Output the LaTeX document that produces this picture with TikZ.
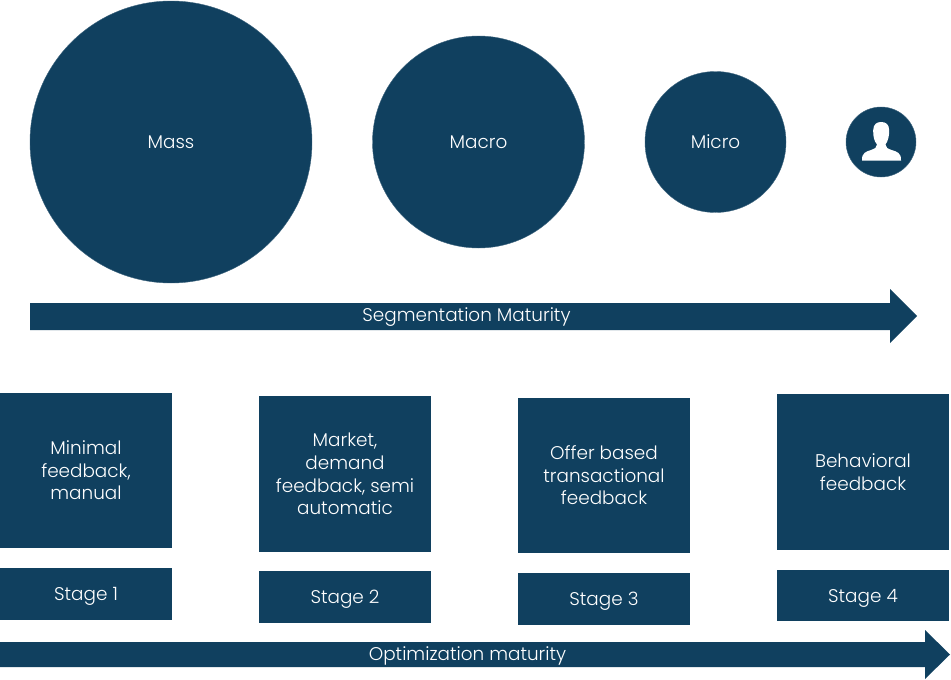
\documentclass[tikz,border=0pt]{standalone}
\usepackage{fontspec}
\setmainfont{Poppins Light}
\definecolor{navy}{HTML}{10405F}
\tikzset{
  bubble/.style={circle, fill=navy, draw=navy!80, text=white, inner sep=0pt, font=\fontsize{18.4}{22}\selectfont},
  stagebox/.style={rectangle, fill=navy, text=white, inner sep=0pt, minimum width=172pt, align=center, font=\fontsize{18.4}{22.6}\selectfont},
  stagelabel/.style={stagebox, text height=13pt, text depth=0pt},
  bartext/.style={text=white, inner sep=0pt, font=\fontsize{18.4}{22}\selectfont},
}
\begin{document}
\begin{tikzpicture}[x=1pt,y=-1pt]
        \useasboundingbox (0,0) rectangle (951,680);
        % bubbles
        \node[bubble, minimum size=282pt] (mass) at (171,142) {Mass};
        \node[bubble, minimum size=212pt] (macro) at (478.5,142) {Macro};
        \node[bubble, minimum size=141pt] (micro) at (715.5,142) {Micro};
        \node[bubble, minimum size=70pt] (user) at (881,142) {};
        \fill[white] (862,160.7) .. controls (861.5,153) and (866,151.5) .. (871,150)
          .. controls (875,148.5) and (877,147.5) .. (877,144.5)
          .. controls (874,141) and (873,136) .. (873.2,130)
          .. controls (873.5,124) and (877,122) .. (881,122)
          .. controls (885.5,122) and (889,124) .. (889.2,130)
          .. controls (889.3,136) and (888,141) .. (885.5,144.5)
          .. controls (885.5,147.5) and (887.5,148.5) .. (891.5,150)
          .. controls (897,151.5) and (901.5,153) .. (901,160.7) -- cycle;
        % arrows
        \fill[navy] (30,303) -- (890,303) -- (890,289) -- (917,316) -- (890,343) -- (890,330) -- (30,330) -- cycle;
        \node[bartext] (segbar) at (466.5,317) {Segmentation Maturity};
        \fill[navy] (0,642) -- (925,642) -- (925,630) -- (950,654.5) -- (925,679) -- (925,667) -- (0,667) -- cycle;
        \node[bartext] (optbar) at (467.5,656) {Optimization maturity};
        % stages
        \node[stagebox, minimum height=155pt] (fb1) at (86,470.5) {Minimal\\feedback,\\manual};
        \node[stagelabel, minimum height=52pt] (st1) at (86,594) {Stage 1};
        \node[stagebox, minimum height=156pt] (fb2) at (345,474) {Market,\\demand\\feedback, semi\\automatic};
        \node[stagelabel, minimum height=52pt] (st2) at (345,597) {Stage 2};
        \node[stagebox, minimum height=155pt] (fb3) at (604,475.5) {Offer based\\transactional\\feedback};
        \node[stagelabel, minimum height=52pt] (st3) at (604,599) {Stage 3};
        \node[stagebox, minimum height=156pt] (fb4) at (863,472) {Behavioral\\feedback};
        \node[stagelabel, minimum height=51pt] (st4) at (863,595.5) {Stage 4};
\end{tikzpicture}
\end{document}
